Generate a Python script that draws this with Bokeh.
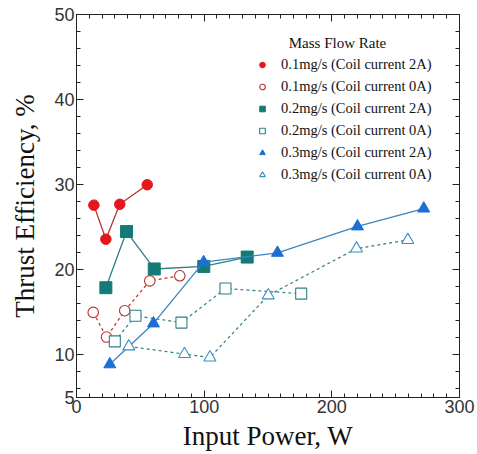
from bokeh.plotting import figure
from bokeh.models import (LinearAxis, Range1d, FixedTicker, Legend, LegendItem,
                          CustomJSTickFormatter)
from bokeh.embed import file_html
from bokeh.resources import INLINE

# Thrust efficiency vs. input power for three mass flow rates,
# with the magnetic coil on (2A) and off (0A).
p01_on_power = [13.6, 23.0, 33.9, 55.4]
p01_on_eff = [27.6, 23.6, 27.7, 30.0]

p01_off_power = [13.1, 23.5, 37.8, 57.4, 80.9]
p01_off_eff = [15.0, 12.1, 15.2, 18.7, 19.3]

p02_on_power = [23.0, 39.2, 60.9, 99.7, 133.7]
p02_on_eff = [17.9, 24.5, 20.1, 20.4, 21.5]

p02_off_power = [30.0, 46.2, 82.2, 116.7, 176.0]
p02_off_eff = [11.6, 14.6, 13.8, 17.8, 17.2]

p03_on_power = [26.1, 60.3, 99.6, 157.4, 220.1, 272.0]
p03_on_eff = [8.9, 13.7, 20.9, 22.0, 25.1, 27.2]

p03_off_power = [41.0, 84.6, 104.5, 150.2, 219.3, 259.5]
p03_off_eff = [11.0, 10.1, 9.7, 17.0, 22.5, 23.5]

x_ticks = [0, 100, 200, 300]
y_ticks = [5, 10, 20, 30, 40, 50]

serif = "Liberation Serif"
sans = "Liberation Sans"

p = figure(width=477, height=454, output_backend="svg", toolbar_location=None,
           x_range=Range1d(0, 300), y_range=Range1d(5, 50),
           min_border_left=76, min_border_right=18, min_border_top=14,
           min_border_bottom=57)
p.grid.visible = False
p.outline_line_color = "#222222"
p.background_fill_color = "white"
p.border_fill_color = "white"

RED = "#e3161b"
RED_LINE = "#b8312f"
TEAL = "#157a77"
TEAL_LINE = "#2f7f86"
BLUE = "#1c6fd4"
BLUE_LINE = "#3a86c4"
BLUE_OPEN = "#3b8fc2"

# 0.1 mg/s
p.line(p01_on_power, p01_on_eff, line_color=RED_LINE, line_width=1.3)
m1 = p.scatter(p01_on_power, p01_on_eff, marker="circle", size=10.5,
               fill_color=RED, line_color=RED)
p.line(p01_off_power, p01_off_eff, line_color=RED_LINE, line_width=1.2,
       line_dash="3 3")
m2 = p.scatter(p01_off_power, p01_off_eff, marker="circle", size=10.5,
               fill_color="white", line_color=RED_LINE, line_width=1.1)

# 0.2 mg/s
p.line(p02_on_power, p02_on_eff, line_color=TEAL_LINE, line_width=1.3)
m3 = p.scatter(p02_on_power, p02_on_eff, marker="square", size=12,
               fill_color=TEAL, line_color=TEAL)
p.line(p02_off_power, p02_off_eff, line_color=TEAL_LINE, line_width=1.2,
       line_dash="3 3")
m4 = p.scatter(p02_off_power, p02_off_eff, marker="square", size=11,
               fill_color="white", line_color=TEAL_LINE, line_width=1.1)

# 0.3 mg/s
p.line(p03_on_power, p03_on_eff, line_color=BLUE_LINE, line_width=1.3)
m5 = p.scatter(p03_on_power, p03_on_eff, marker="triangle", size=12,
               fill_color=BLUE, line_color=BLUE)
p.line(p03_off_power, p03_off_eff, line_color=TEAL_LINE, line_width=1.2,
       line_dash="3 3")
m6 = p.scatter(p03_off_power, p03_off_eff, marker="triangle", size=12,
               fill_color="white", line_color=BLUE_OPEN, line_width=1.1)

legend = Legend(items=[
    LegendItem(label="0.1mg/s (Coil current 2A)", renderers=[m1]),
    LegendItem(label="0.1mg/s (Coil current 0A)", renderers=[m2]),
    LegendItem(label="0.2mg/s (Coil current 2A)", renderers=[m3]),
    LegendItem(label="0.2mg/s (Coil current 0A)", renderers=[m4]),
    LegendItem(label="0.3mg/s (Coil current 2A)", renderers=[m5]),
    LegendItem(label="0.3mg/s (Coil current 0A)", renderers=[m6]),
], location=(179, 214))
legend.title = "\u00a0\u00a0\u00a0\u00a0\u00a0\u00a0\u00a0\u00a0\u00a0Mass Flow Rate"
legend.title_text_font = serif
legend.title_text_font_size = "15px"
legend.title_text_font_style = "normal"
legend.title_text_color = "#111111"
legend.title_standoff = 4
legend.label_text_font = serif
legend.label_text_font_size = "14.5px"
legend.label_text_color = "#111111"
legend.label_height = 17
legend.glyph_height = 17
legend.glyph_width = 14
legend.label_standoff = 12
legend.spacing = 5
legend.padding = 6
legend.margin = 0
legend.border_line_color = None
legend.background_fill_alpha = 0.9
p.add_layout(legend)


def style_axis(ax):
    ax.major_tick_in = 7
    ax.major_tick_out = 0
    ax.minor_tick_in = 4
    ax.minor_tick_out = 0
    ax.axis_line_color = "#222222"
    ax.major_tick_line_color = "#222222"
    ax.minor_tick_line_color = "#222222"


xt = FixedTicker(ticks=x_ticks, minor_ticks=list(range(0, 301, 10)))
yt = FixedTicker(ticks=y_ticks, minor_ticks=[6, 8] + list(range(10, 51, 2)))

p.xaxis.ticker = xt
p.yaxis.ticker = yt
p.xaxis.axis_label = "Input Power, W"
p.yaxis.axis_label = "Thrust Efficiency, %"
p.xaxis.axis_label_standoff = 5
p.yaxis.axis_label_standoff = 11
for ax in p.xaxis + p.yaxis:
    style_axis(ax)
    ax.major_label_text_font = sans
    ax.major_label_text_font_size = "18px"
    ax.major_label_text_color = "#333333"
    ax.major_label_standoff = 2
    ax.axis_label_text_font = serif
    ax.axis_label_text_font_size = "27px"
    ax.axis_label_text_font_style = "normal"
    ax.axis_label_text_color = "#111111"

# mirrored tick marks on the top and right frame edges, without labels
blank = CustomJSTickFormatter(code="return ''")
top = LinearAxis(ticker=xt, formatter=blank, major_label_standoff=0)
right = LinearAxis(ticker=yt, formatter=blank, major_label_standoff=0)
style_axis(top)
style_axis(right)
p.add_layout(top, "above")
p.add_layout(right, "right")

open("out.html", "w").write(file_html(p, INLINE))
